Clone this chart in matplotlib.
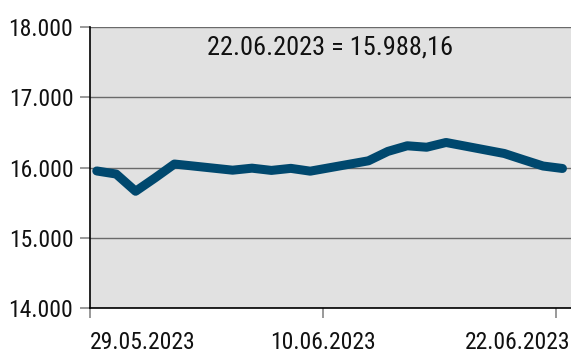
import matplotlib
matplotlib.use("Agg")
import matplotlib.pyplot as plt
import matplotlib.dates as mdates
from matplotlib.ticker import FuncFormatter
import pandas as pd

plt.rcParams["font.family"] = ["Liberation Sans Narrow", "Roboto Condensed",
                               "Archivo Narrow", "DejaVu Sans"]

# DAX Schlusskurse, Handelstage
dates = ["2023-05-29", "2023-05-30", "2023-05-31", "2023-06-01", "2023-06-02",
         "2023-06-05", "2023-06-06", "2023-06-07", "2023-06-08", "2023-06-09",
         "2023-06-12", "2023-06-13", "2023-06-14", "2023-06-15", "2023-06-16",
         "2023-06-19", "2023-06-20", "2023-06-21", "2023-06-22"]
closes = [15952.73, 15908.91, 15664.02, 15853.66, 16051.23,
          15963.89, 15992.44, 15960.56, 15989.76, 15949.84,
          16097.15, 16230.68, 16310.79, 16290.12, 16357.63,
          16201.20, 16111.32, 16023.06, 15988.16]
tick_dates = ["2023-05-29", "2023-06-10", "2023-06-22"]
y_ticks = [14000, 15000, 16000, 17000, 18000]

LINE = "#00486e"
BG = "#e1e1e1"


def de_num(v, decimals=0):
    s = f"{v:,.{decimals}f}"
    return s.replace(",", "X").replace(".", ",").replace("X", ".")


d = pd.to_datetime(dates)
x = mdates.date2num(d) + 0.35   # Punkte leicht nach rechts im Tagesraster
td = pd.to_datetime(tick_dates)
ticks = mdates.date2num(td)

fig = plt.figure(figsize=(5.71, 3.53), dpi=100)
ax = fig.add_axes([90 / 571, 0.1266, 481 / 571, 0.797])
ax.set_facecolor(BG)

ax.plot(x, closes, color=LINE, linewidth=6.5, solid_capstyle="round",
        solid_joinstyle="round", zorder=3)

ax.set_yticks(y_ticks)
ax.yaxis.set_major_formatter(FuncFormatter(lambda v, p: de_num(v)))
ax.grid(axis="y", color="#6a6a6a", linewidth=1.0)
ax.set_axisbelow(True)

# Striche an den Datumsmarken, Beschriftung über Nebenticks, damit die
# äußeren Labels im Bild bleiben
ax.xaxis.remove_overlapping_locs = False
ax.set_xticks(ticks, [""] * len(ticks))
lab_pos = [ticks[0], ticks[1], ticks[2] + 0.74]
ax.set_xticks(lab_pos, [t.strftime("%d.%m.%Y") for t in td], minor=True)
mlabels = ax.get_xticklabels(minor=True)
mlabels[0].set_ha("left")
mlabels[-1].set_ha("right")

ax.set_xlim(ticks[0], ticks[-1] + 0.79)
ax.set_ylim(y_ticks[0], y_ticks[-1])

ax.tick_params(axis="both", labelsize=17, colors="#888888", labelcolor="#111111",
               length=7, width=1.2)
ax.tick_params(axis="x", which="minor", length=0, pad=16, labelsize=17,
               labelcolor="#111111")
ax.tick_params(axis="y", pad=5)

for side in ("top", "right"):
    ax.spines[side].set_visible(False)
for side in ("left", "bottom"):
    ax.spines[side].set_color("black")
    ax.spines[side].set_linewidth(1.2)

ax.text(0.5, 0.927, f"{d[-1].strftime('%d.%m.%Y')} = {de_num(closes[-1], 2)}",
        transform=ax.transAxes, ha="center", va="center", fontsize=19,
        color="#111111")

fig.savefig("out.png", dpi=100)
